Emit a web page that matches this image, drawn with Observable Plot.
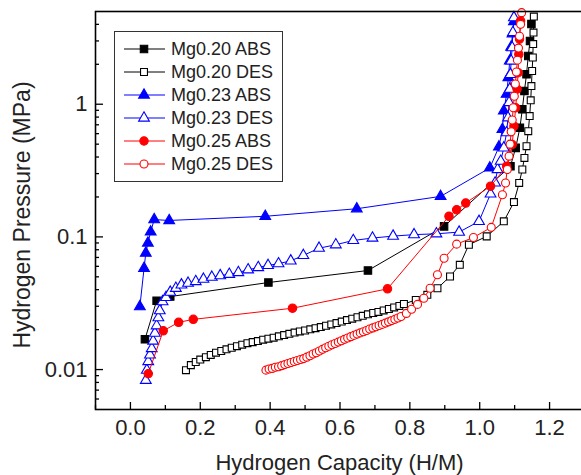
<!DOCTYPE html>
<html><head><meta charset="utf-8">
<script src="https://cdn.jsdelivr.net/npm/d3@7"></script>
<script src="https://cdn.jsdelivr.net/npm/@observablehq/plot@0.6"></script>
<style>
html,body{margin:0;padding:0;background:#fff;overflow:hidden;}
#chart{width:581px;height:475px;position:relative;overflow:hidden;}
</style></head><body><div id="chart"></div>
<script>
// ---- data ----
const seriesNames = ["Mg0.20 ABS","Mg0.20 DES","Mg0.23 ABS","Mg0.23 DES","Mg0.25 ABS","Mg0.25 DES"];

const mg020AbsX = [0.0415,0.075,0.114,0.395,0.68,0.898,1.088,1.103,1.115,1.122,1.128,1.134,1.139,1.144,1.148];
const mg020AbsP = [0.0169,0.033,0.0355,0.0453,0.0558,0.12,0.341,0.469,0.664,0.915,1.26,1.68,2.31,3.0,4.02];

const mg020DesX = [0.159,0.173,0.187,0.2,0.216,0.23,0.245,0.26,0.275,0.29,0.305,0.32,0.335,0.35,0.365,0.38,0.395,0.41,0.425,0.44,0.455,0.47,0.485,0.5,0.515,0.53,0.545,0.56,0.575,0.59,0.605,0.62,0.635,0.65,0.665,0.68,0.695,0.71,0.725,0.74,0.755,0.77,0.783,0.817,0.85,0.879,0.915,0.943,0.969,1.02,1.069,1.098,1.113,1.122,1.128,1.134,1.139,1.143,1.146,1.148,1.15,1.152,1.153,1.154,1.155];
const mg020DesP = [0.0099,0.0108,0.0114,0.0119,0.0124,0.0129,0.0134,0.0138,0.0142,0.0146,0.0150,0.0154,0.0158,0.0161,0.0164,0.0168,0.0171,0.0174,0.0178,0.0182,0.0186,0.0190,0.0194,0.0197,0.0201,0.0205,0.0209,0.0214,0.0219,0.0224,0.0230,0.0236,0.0242,0.0248,0.0254,0.0261,0.0267,0.0272,0.0279,0.0286,0.0294,0.0302,0.0312,0.0335,0.0366,0.041,0.0503,0.0616,0.0873,0.1009,0.131,0.183,0.255,0.322,0.394,0.483,0.626,0.814,1.07,1.37,1.78,2.25,2.84,3.47,4.58];

const mg023AbsX = [0.027,0.039,0.044,0.05,0.058,0.068,0.111,0.386,0.648,0.888,1.029,1.055,1.065,1.069,1.077,1.082,1.086,1.09,1.094,1.098];
const mg023AbsP = [0.0298,0.058,0.0755,0.09,0.109,0.135,0.133,0.143,0.163,0.202,0.331,0.477,0.646,0.89,1.19,1.59,2.12,2.7,3.4,4.2];

const mg023DesX = [0.044,0.047,0.051,0.056,0.061,0.065,0.07,0.075,0.08,0.084,0.092,0.102,0.114,0.13,0.146,0.165,0.187,0.209,0.233,0.257,0.283,0.309,0.337,0.366,0.394,0.424,0.459,0.495,0.54,0.588,0.638,0.693,0.752,0.812,0.876,0.941,0.998,1.031,1.044,1.051,1.06,1.069,1.077,1.081,1.084,1.086,1.088,1.09,1.093,1.095,1.098];
const mg023DesP = [0.0083,0.0099,0.0115,0.0129,0.0144,0.0164,0.0188,0.0214,0.0246,0.0278,0.0325,0.035,0.0383,0.041,0.0435,0.0448,0.0461,0.048,0.0497,0.0511,0.0523,0.0539,0.0565,0.0588,0.061,0.0628,0.066,0.0725,0.0822,0.0873,0.094,0.098,0.1014,0.104,0.1055,0.1087,0.131,0.211,0.255,0.322,0.372,0.469,0.61,0.79,1.03,1.3,1.68,2.12,2.67,3.47,4.5];

const mg025AbsX = [0.051,0.094,0.138,0.18,0.464,0.736,0.912,0.934,0.96,1.031,1.077,1.093,1.098,1.103,1.107,1.11,1.112,1.114,1.117];
const mg025AbsP = [0.0093,0.0196,0.0227,0.0239,0.029,0.0406,0.143,0.16,0.18,0.241,0.341,0.497,0.684,0.94,1.3,1.73,2.38,3.1,4.25];

const mg025DesX = [0.388,0.397,0.406,0.415,0.424,0.433,0.442,0.451,0.46,0.469,0.478,0.487,0.496,0.505,0.514,0.523,0.532,0.541,0.55,0.559,0.568,0.577,0.586,0.595,0.604,0.613,0.622,0.631,0.64,0.649,0.658,0.667,0.676,0.685,0.694,0.703,0.712,0.721,0.73,0.739,0.748,0.757,0.766,0.775,0.79,0.805,0.822,0.84,0.858,0.879,0.898,0.934,0.982,1.033,1.065,1.074,1.079,1.084,1.087,1.09,1.093,1.096,1.099,1.102,1.105,1.108,1.111,1.114,1.117,1.12];
const mg025DesP = [0.0099,0.0101,0.0102,0.0104,0.0105,0.0107,0.0109,0.0111,0.0113,0.0115,0.0117,0.0119,0.0121,0.0124,0.0127,0.0131,0.0134,0.0138,0.0142,0.0146,0.0150,0.0154,0.0157,0.0161,0.0165,0.0169,0.0173,0.0177,0.0181,0.0185,0.0189,0.0193,0.0197,0.0202,0.0206,0.0210,0.0215,0.0219,0.0224,0.0229,0.0234,0.0239,0.0245,0.0251,0.0265,0.0285,0.031,0.0345,0.041,0.0518,0.069,0.0882,0.099,0.118,0.208,0.255,0.322,0.406,0.5,0.62,0.76,0.94,1.15,1.42,1.75,2.15,2.65,3.25,4.0,4.9];

const xMajorTicks = [0.0,0.2,0.4,0.6,0.8,1.0,1.2];
const xMinorTicks = [-0.1,0.1,0.3,0.5,0.7,0.9,1.1];
const yMajorTicks = [0.01,0.1,1];
const yMinorTicks = [0.006,0.007,0.008,0.009,0.02,0.03,0.04,0.05,0.06,0.07,0.08,0.09,0.2,0.3,0.4,0.5,0.6,0.7,0.8,0.9,2,3,4];

const xTitle = "Hydrogen Capacity (H/M)";
const yTitle = "Hydrogen Pressure (MPa)";

// ---- styles (kept apart from data) ----
const seriesX = [mg020AbsX, mg020DesX, mg023AbsX, mg023DesX, mg025AbsX, mg025DesX];
const seriesP = [mg020AbsP, mg020DesP, mg023AbsP, mg023DesP, mg025AbsP, mg025DesP];
const styles = [
  {color:"#000000", symbol:"square",   filled:true,  r:4.2},
  {color:"#000000", symbol:"square",   filled:false, r:3.9},
  {color:"#0000ff", symbol:"triangle", filled:true,  r:4.0},
  {color:"#0000ff", symbol:"triangle", filled:false, r:4.0},
  {color:"#ff0000", symbol:"circle",   filled:true,  r:4.2},
  {color:"#ff0000", symbol:"circle",   filled:false, r:4.0}
];

const tables = seriesNames.map((name, i) => seriesX[i].map((x, j) => ({series: name, x, p: seriesP[i][j]})));

const FONT = "'Liberation Sans', Arial, Helvetica, sans-serif";
const frameH = 475 - 11 - 66;
const frameW = 581 + 3 - 95;

const marks = [];
tables.forEach((rows, i) => {
  const s = styles[i];
  marks.push(Plot.line(rows, {x: "x", y: "p", stroke: s.color, strokeWidth: 1}));
  marks.push(Plot.dot(rows, {x: "x", y: "p", symbol: s.symbol, r: s.r, stroke: s.color, strokeWidth: 1.1, fill: s.filled ? s.color : "white"}));
});
// inward ticks
marks.push(Plot.ruleX(xMajorTicks, {x: d => d, insetTop: frameH - 7, stroke: "#000", strokeWidth: 1.3}));
marks.push(Plot.ruleX(xMinorTicks, {x: d => d, insetTop: frameH - 4, stroke: "#000", strokeWidth: 1.3}));
marks.push(Plot.ruleY(yMajorTicks, {y: d => d, insetRight: frameW - 8, stroke: "#000", strokeWidth: 1.3}));
marks.push(Plot.ruleY(yMinorTicks, {y: d => d, insetRight: frameW - 4, stroke: "#000", strokeWidth: 1.3}));
// tick labels
marks.push(Plot.axisX({ticks: xMajorTicks, tickSize: 0, tickPadding: 10, fontSize: 22, tickFormat: d3.format(".1f"), label: null, fill: "#222"}));
marks.push(Plot.axisY({ticks: yMajorTicks, tickSize: 0, tickPadding: 8, fontSize: 22, tickFormat: d => String(d), label: null, fill: "#222"}));
marks.push(Plot.frame({stroke: "#000", strokeWidth: 1.6}));

const svg = Plot.plot({
  width: 581, height: 475,
  marginLeft: 95, marginRight: -3, marginTop: 11, marginBottom: 66,
  x: {domain: [-0.1, 1.3]},
  y: {type: "log", domain: [0.005, 5]},
  style: {fontFamily: FONT, color: "#000", background: "white", maxWidth: "none"},
  marks
});

const g = d3.select(svg);
// axis titles
g.append("text").attr("x", 339.5).attr("y", 470).attr("text-anchor", "middle")
  .attr("font-size", 22).attr("font-family", FONT).attr("fill", "#222").text(xTitle);
g.append("text").attr("transform", "translate(29.5,215) rotate(-90)").attr("text-anchor", "middle")
  .attr("font-size", 23).attr("font-family", FONT).attr("fill", "#222").text(yTitle);

// legend
const lg = g.append("g").attr("text-anchor", "start");
lg.append("rect").attr("x", 114.5).attr("y", 31.5).attr("width", 168).attr("height", 150)
  .attr("fill", "white").attr("stroke", "#333").attr("stroke-width", 1);
seriesNames.forEach((name, i) => {
  const s = styles[i];
  const y = 49 + i * 23;
  lg.append("line").attr("x1", 124).attr("x2", 165).attr("y1", y).attr("y2", y)
    .attr("stroke", s.color).attr("stroke-width", 1);
  const sym = {square: d3.symbolSquare, triangle: d3.symbolTriangle, circle: d3.symbolCircle}[s.symbol];
  lg.append("path").attr("transform", `translate(144,${y})`)
    .attr("d", d3.symbol(sym, Math.PI * s.r * s.r)())
    .attr("fill", s.filled ? s.color : "white").attr("stroke", s.color).attr("stroke-width", 1.1);
  lg.append("text").attr("x", 171).attr("y", y).attr("dy", "0.36em").attr("text-anchor", "start")
    .attr("font-size", 18).attr("font-family", FONT).attr("fill", "#222").text(name);
});

document.getElementById("chart").appendChild(svg);
</script></body></html>
